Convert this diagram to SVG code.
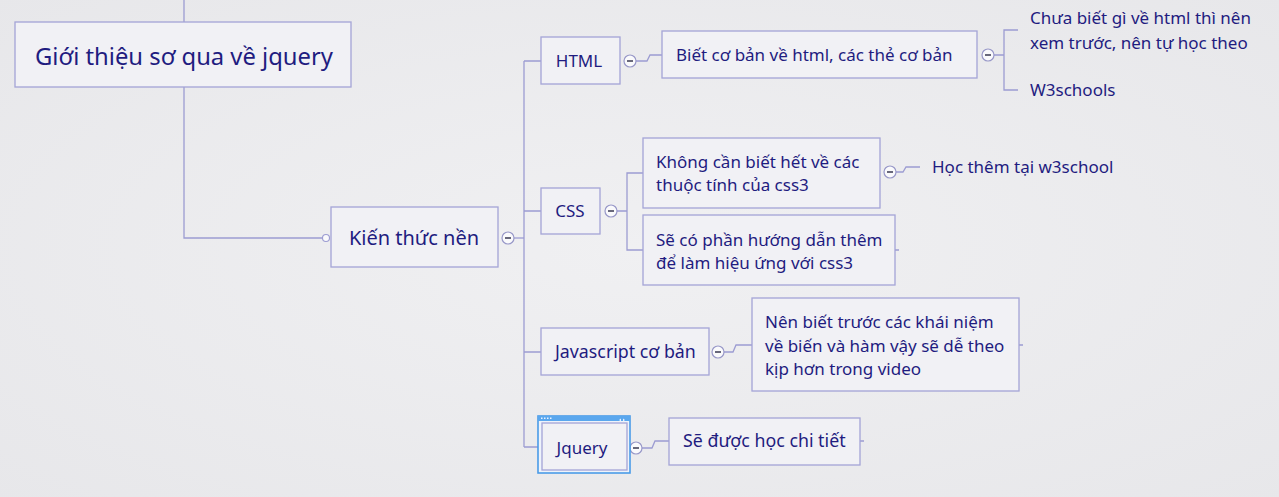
<svg xmlns="http://www.w3.org/2000/svg" width="1279" height="497" viewBox="0 0 1279 497">
<defs>
<style>
.box{fill:#f1f1f5;stroke:#a4a4d6;stroke-width:1.3}
.ln{fill:none;stroke:#9c9cd2;stroke-width:1.3}
.t{font-family:"Comic Sans MS","Noto Sans","Liberation Sans",sans-serif;fill:#1f1c80}
.s16{font-size:17px}
.s18{font-size:17.8px}
.c{text-anchor:middle}
.tog circle{fill:#fafafc;stroke:#9898c8;stroke-width:1.2}
.tog line{stroke:#44445a;stroke-width:1.6}
</style>
<radialGradient id="g" cx="0.5" cy="0.5" r="0.8">
<stop offset="0" stop-color="#f0f0f2"/>
<stop offset="1" stop-color="#e6e6e9"/>
</radialGradient>
<g id="minus" class="tog"><circle cx="0" cy="0" r="6"/><line x1="-3" y1="0" x2="3" y2="0"/></g>
</defs>
<rect width="1279" height="497" fill="url(#g)"/>

<g id="connectors">
<path class="ln" d="M184,0 V22"/>
<path class="ln" d="M184,87 V238 H322"/>
<circle cx="326" cy="238" r="3.5" fill="#fafafc" stroke="#9c9cd2" stroke-width="1.1"/>
<path class="ln" d="M514,238 H524"/>
<path class="ln" d="M524,61 V447"/>
<path class="ln" d="M524,61 H541 M524,211 H541 M524,352 H541 M524,447 H538"/>
<path class="ln" d="M636,61 H647 L650,55 H662"/>
<path class="ln" d="M994,55 H1004 M1018,30 H1004 V90 H1018"/>
<path class="ln" d="M617,211 H627 M643,173 H627 V250 H643"/>
<path class="ln" d="M896,172 H903 L906,167 H920"/>
<path class="ln" d="M724,352 H733 L736,345 H752"/>
<path class="ln" d="M642,448 H652 L655,441 H669"/>
<path class="ln" d="M895,250 H899 M1019,345 H1023 M860,441 H864"/>
<use href="#minus" x="508" y="238"/>
<use href="#minus" x="630" y="61"/>
<use href="#minus" x="988" y="55"/>
<use href="#minus" x="611" y="211"/>
<use href="#minus" x="890" y="172"/>
<use href="#minus" x="718" y="352"/>
<use href="#minus" x="636" y="448"/>
</g>

<g id="root">
<rect class="box" x="15" y="22" width="336" height="65"/>
<text class="t c" x="184" y="65" font-size="23.8">Giới thiệu sơ qua về jquery</text>
</g>

<g id="kien-thuc-nen">
<rect class="box" x="331" y="207" width="167" height="60"/>
<text class="t c" x="414" y="245" font-size="20">Kiến thức nền</text>
</g>

<g id="html">
<rect class="box" x="541" y="37" width="79" height="47"/>
<text class="t s16 c" x="579" y="67">HTML</text>
</g>

<g id="html-1">
<rect class="box" x="662" y="31" width="315" height="47"/>
<text class="t s16" x="676" y="61">Biết cơ bản về html, các thẻ cơ bản</text>
</g>

<g id="html-2">
<text class="t s16" x="1030" y="24">Chưa biết gì về html thì nên</text>
<text class="t s16" x="1030" y="49">xem trước, nên tự học theo</text>
<text class="t s16" x="1030" y="96">W3schools</text>
</g>

<g id="css">
<rect class="box" x="541" y="188" width="59" height="46"/>
<text class="t s16 c" x="570" y="217">CSS</text>
</g>

<g id="css-1">
<rect class="box" x="643" y="138" width="237" height="70"/>
<text class="t s16" x="656" y="168">Không cần biết hết về các</text>
<text class="t s16" x="656" y="191">thuộc tính của css3</text>
</g>

<g id="css-1a">
<text class="t s16" x="932" y="173">Học thêm tại w3school</text>
</g>

<g id="css-2">
<rect class="box" x="643" y="215" width="252" height="70"/>
<text class="t s16" x="656" y="246">Sẽ có phần hướng dẫn thêm</text>
<text class="t s16" x="656" y="269">để làm hiệu ứng với css3</text>
</g>

<g id="javascript">
<rect class="box" x="541" y="328" width="168" height="47"/>
<text class="t s18" x="555" y="358">Javascript cơ bản</text>
</g>

<g id="javascript-1">
<rect class="box" x="752" y="298" width="267" height="93"/>
<text class="t s16" x="765" y="328">Nên biết trước các khái niệm</text>
<text class="t s16" x="765" y="352">về biến và hàm vậy sẽ dễ theo</text>
<text class="t s16" x="765" y="375">kịp hơn trong video</text>
</g>

<g id="jquery">
<rect x="538" y="416" width="92" height="57" fill="#eef3fb" stroke="#4a9be8" stroke-width="1.6"/>
<rect x="538" y="416" width="92" height="5" fill="#5aa7ee"/>
<g fill="#e8f2ff"><rect x="541" y="417.5" width="1.5" height="1.5"/><rect x="544" y="417.5" width="1.5" height="1.5"/><rect x="547" y="417.5" width="1.5" height="1.5"/><rect x="550" y="417.5" width="1.5" height="1.5"/></g>
<path d="M621,418.5 l-2,1.5 l2,1.5 z M623,418.5 l2,1.5 l-2,1.5 z" fill="#e8f2ff"/>
<rect class="box" x="542" y="423" width="85" height="47"/>
<text class="t s16 c" x="582" y="454">Jquery</text>
</g>

<g id="jquery-1">
<rect class="box" x="669" y="418" width="191" height="47"/>
<text class="t s18" x="683" y="447">Sẽ được học chi tiết</text>
</g>
</svg>
